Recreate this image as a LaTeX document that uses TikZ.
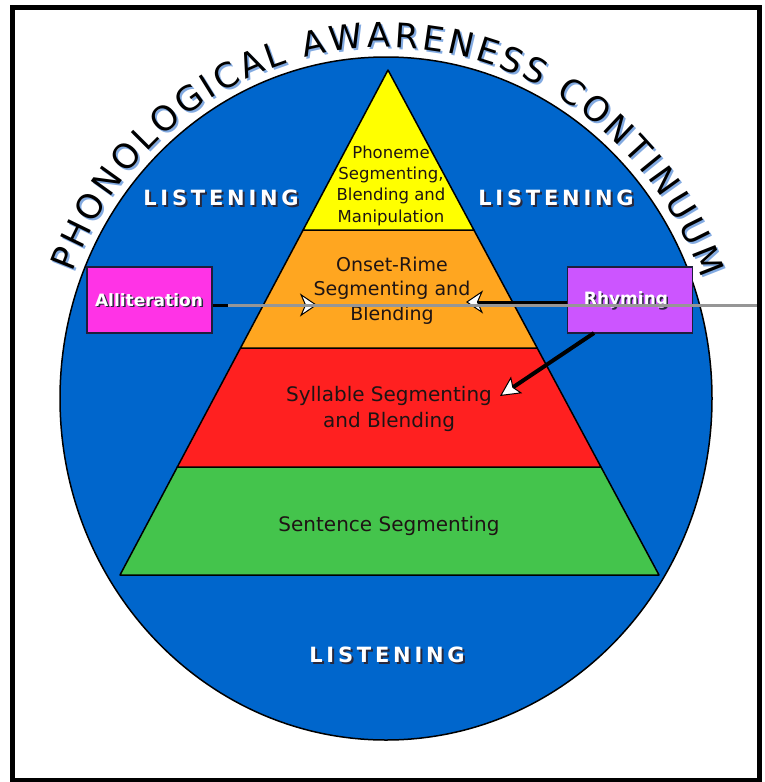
\documentclass[tikz,border=0pt]{standalone}
\usepackage{fontspec}
\setmainfont{DejaVu Sans}
\usetikzlibrary{arrows.meta,decorations.text,shapes.geometric}
\definecolor{discblue}{RGB}{0,102,204}
\definecolor{lyellow}{RGB}{255,255,0}
\definecolor{lorange}{RGB}{255,166,32}
\definecolor{lred}{RGB}{255,32,32}
\definecolor{lgreen}{RGB}{68,196,76}
\definecolor{allitpink}{RGB}{255,51,230}
\definecolor{rhympurple}{RGB}{204,85,255}
\definecolor{boxedge}{RGB}{30,30,60}
\definecolor{darktext}{RGB}{30,20,20}
\definecolor{titleshadow}{RGB}{130,170,225}
\definecolor{shadowdark}{RGB}{40,40,60}
\definecolor{linegray}{RGB}{150,150,150}
\newcommand\ttlfont{\fontsize{34}{34}\selectfont}
\tikzset{
  layer/.style={draw=black, line width=1.5pt, line join=round},
  lvltext/.style={text=darktext, align=center, inner sep=0pt},
  listen/.style={text=white, inner sep=0pt, font=\fontsize{21}{21}\selectfont\bfseries\addfontfeature{LetterSpace=18}},
  listenshadow/.style={listen, text=shadowdark},
  sidebox/.style={draw=boxedge, line width=1.5pt, minimum width=125pt, minimum height=66pt, inner sep=0pt},
  boxtext/.style={text=white, inner sep=0pt, font=\fontsize{17}{17}\selectfont\bfseries},
  boxshadow/.style={boxtext, text=shadowdark},
  blkarrow/.style={draw=black, line width=3pt, -{Stealth[length=17pt,width=23pt,inset=5pt,fill=white,line width=1pt]}},
  diagarrow/.style={draw=black, line width=4pt, -{Stealth[length=20pt,width=20pt,inset=4pt,fill=white,line width=1pt]}},
  grayline/.style={draw=linegray, line width=3pt}
}
\begin{document}
\begin{tikzpicture}[x=1pt,y=-1pt]
\useasboundingbox (0,0) rectangle (765,782);
% disc
\node[draw=black, line width=1.5pt, fill=discblue, ellipse, minimum width=652pt, minimum height=683pt, inner sep=0pt] (disc) at (386,398.5) {};
% title with shadow
\path[decorate, decoration={text along path, text={|\ttlfont|PHONOLOGICAL AWARENESS CONTINUUM}, text align={fit to path}, text color=titleshadow}]
  (388,400.5) ++(-159:336 and 351) arc[start angle=-159, end angle=-20, x radius=336, y radius=351];
\path[decorate, decoration={text along path, text={|\ttlfont|PHONOLOGICAL AWARENESS CONTINUUM}, text align={fit to path}, text color=black}]
  (386,398.5) ++(-159:336 and 351) arc[start angle=-159, end angle=-20, x radius=336, y radius=351];
% pyramid layers
\fill[lgreen, layer] (177.3,467) -- (601,467) -- (659,575) -- (120,575) -- cycle;
\fill[lred, layer] (240.5,348) -- (537.2,348) -- (601,467) -- (177.3,467) -- cycle;
\fill[lorange, layer] (303.1,230) -- (473.9,230) -- (537.2,348) -- (240.5,348) -- cycle;
\fill[lyellow, layer] (388,70) -- (473.9,230) -- (303.1,230) -- cycle;
% level texts
\node[lvltext, font=\fontsize{16.5}{21.3}\selectfont] (phon) at (391,185.5) {Phoneme\\Segmenting,\\Blending and\\Manipulation};
\node[lvltext, font=\fontsize{19}{24.5}\selectfont] (onset) at (392,290.5) {Onset-Rime\\Segmenting and\\Blending};
\node[lvltext, font=\fontsize{20}{26}\selectfont] (syll) at (389,409) {Syllable Segmenting\\and Blending};
\node[lvltext, font=\fontsize{20}{26}\selectfont] (sent) at (389,526) {Sentence Segmenting};
% listening labels
\node[listenshadow] (l1s) at (223,200) {LISTENING};
\node[listen] (l1) at (221,198) {LISTENING};
\node[listenshadow] (l2s) at (558,200) {LISTENING};
\node[listen] (l2) at (556,198) {LISTENING};
\node[listenshadow] (l3s) at (389,657) {LISTENING};
\node[listen] (l3) at (387,655) {LISTENING};
% side boxes
\node[sidebox, fill=allitpink] (allit) at (149.5,300) {};
\node[boxshadow] (allitts) at (150.5,301.5) {Alliteration};
\node[boxtext] (allitt) at (149,300) {Alliteration};
\node[sidebox, fill=rhympurple] (rhym) at (630,300) {};
\node[boxshadow] (rhymts) at (627.5,301.5) {Rhyming};
\node[boxtext] (rhymt) at (626,300) {Rhyming};
% arrows
\coordinate (tipR) at (317,305);
\coordinate (tipL) at (466,302);
\coordinate (tipD) at (500,396);
\coordinate (rhymfoot) at (594,333);
\draw[blkarrow] ([yshift=-5pt]allit.east) -- (tipR);
\draw[blkarrow] ([yshift=-2pt]rhym.west) -- (tipL);
\draw[diagarrow] (rhymfoot) -- (tipD);
\coordinate (gstart) at (228,305.5);
\coordinate (gend) at (757,305.5);
\draw[grayline] (gstart) -- (gend);
% frame
\draw[line width=5pt] (12.5,7.5) rectangle (759.5,780);
\end{tikzpicture}
\end{document}
